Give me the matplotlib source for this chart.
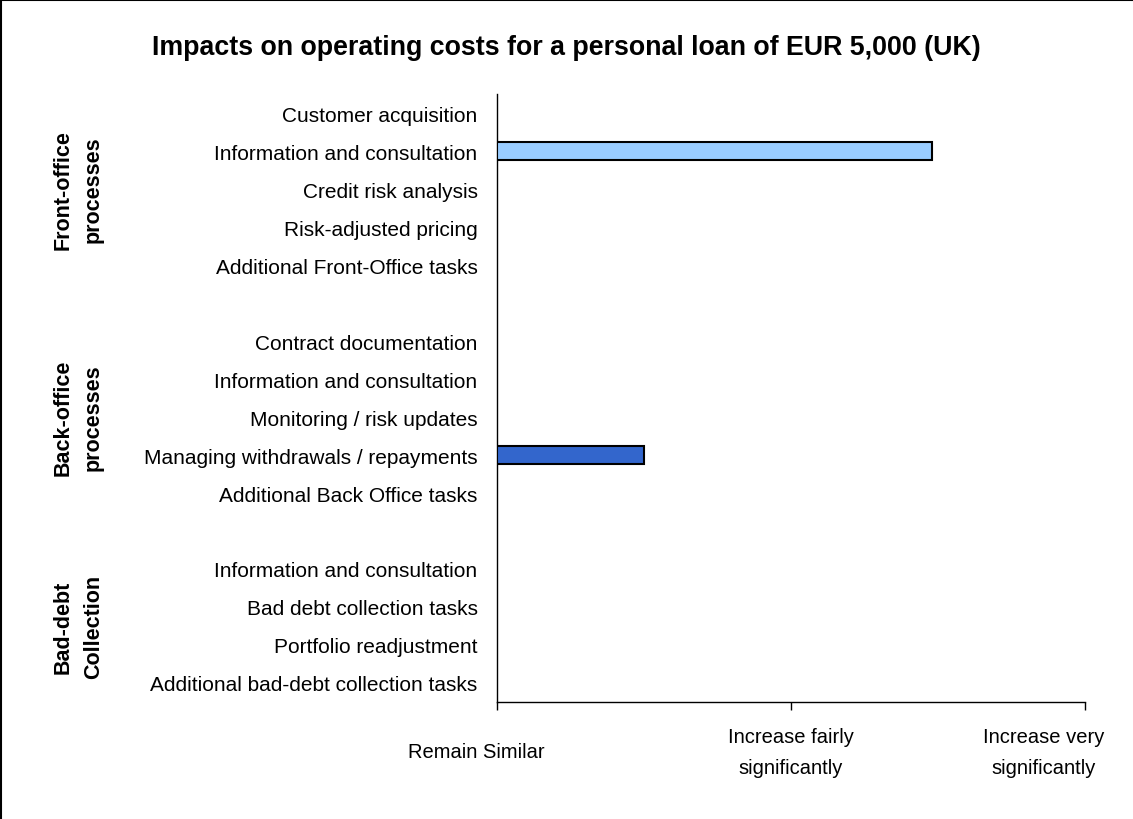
import matplotlib
matplotlib.use("Agg")
import matplotlib.pyplot as plt
from matplotlib.lines import Line2D
import matplotlib.transforms as mtransforms

plt.rcParams['font.family'] = ['Liberation Sans', 'DejaVu Sans']

title = "Impacts on operating costs for a personal loan of EUR 5,000 (UK)"
groups = ["Front-office\nprocesses", "Back-office\nprocesses", "Bad-debt\nCollection"]
group_items = [
    ["Customer acquisition", "Information and consultation", "Credit risk analysis",
     "Risk-adjusted pricing", "Additional Front-Office tasks"],
    ["Contract documentation", "Information and consultation", "Monitoring / risk updates",
     "Managing withdrawals / repayments", "Additional Back Office tasks"],
    ["Information and consultation", "Bad debt collection tasks", "Portfolio readjustment",
     "Additional bad-debt collection tasks"],
]
group_values = [
    [0, 1.48, 0, 0, 0],
    [0, 0, 0, 0.5, 0],
    [0, 0, 0, 0],
]
group_colors = ["#99CCFF", "#3366CC", "#3366CC"]
x_ticks = [0, 1, 2]
x_labels = ["Remain Similar", "Increase fairly\nsignificantly", "Increase very\nsignificantly"]
x_label_pos = [-0.07, 1.0, 1.86]

fig = plt.figure(figsize=(11.33, 8.2), dpi=100)
ax = fig.add_axes([0.4387, 0.1427, 0.5189, 0.7414])

pos = 0
ypos, ylabels = [], []
group_centers = []
for gi, (items, vals, col) in enumerate(zip(group_items, group_values, group_colors)):
    start = pos
    for it, v in zip(items, vals):
        if v > 0:
            ax.barh(pos, v, height=0.45, color=col, edgecolor='black', linewidth=1.5, zorder=3)
        ypos.append(pos)
        ylabels.append(it)
        pos += 1
    group_centers.append((start + pos - 1) / 2)
    pos += 1

ax.set_ylim(15.5, -0.5)
ax.set_xlim(0, 2)
ax.set_yticks(ypos)
ax.set_yticklabels(ylabels, fontsize=15)
ax.tick_params(axis='y', length=0, pad=14)
ax.set_xticks(x_ticks)
ax.set_xticklabels([''] * len(x_ticks))
ax.tick_params(axis='x', length=6, width=1, direction='out', color='black')
for s in ['top', 'right']:
    ax.spines[s].set_visible(False)
ax.spines['left'].set_linewidth(1)
ax.spines['bottom'].set_linewidth(1)

trans = mtransforms.blended_transform_factory(ax.transData, fig.transFigure)
for xp, lab in zip(x_label_pos, x_labels):
    ax.text(xp, 1 - 753 / 820, lab, transform=trans, ha='center', va='center',
            fontsize=14.5, linespacing=1.85)

gtrans = mtransforms.blended_transform_factory(fig.transFigure, ax.transData)
for gc, gname in zip(group_centers, groups):
    fig.text(78 / 1133, gc, gname, transform=gtrans, rotation=90, ha='center', va='center',
             fontsize=15.5, fontweight='bold', linespacing=1.6)

fig.text(566 / 1133, 1 - 48 / 820, title, ha='center', va='center', fontsize=19.3,
         fontweight='bold')

fig.add_artist(Line2D([0.001, 0.001], [0, 0.999], transform=fig.transFigure, color='black', lw=1.5))
fig.add_artist(Line2D([0.001, 1], [0.999, 0.999], transform=fig.transFigure, color='black', lw=1.5))

fig.savefig("out.png", dpi=100)
